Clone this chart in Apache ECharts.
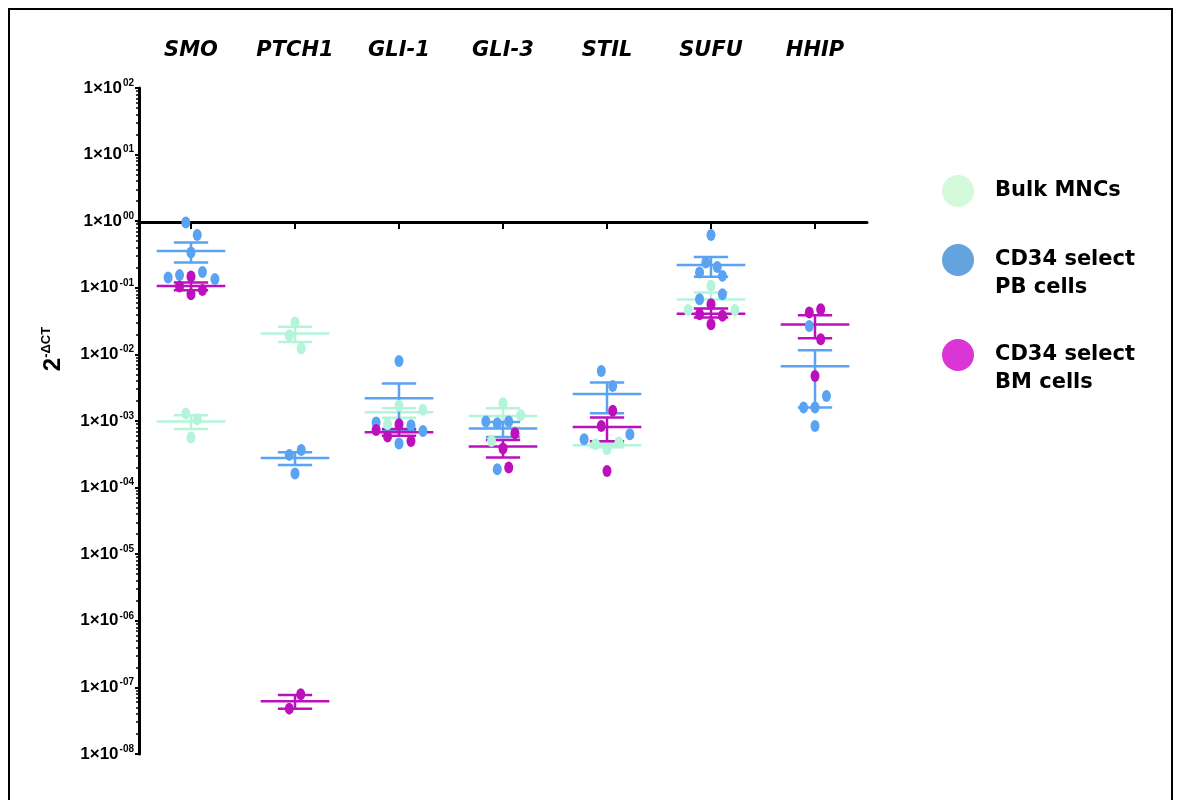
<!DOCTYPE html>
<html>
<head>
<meta charset="utf-8">
<script src="https://cdn.jsdelivr.net/npm/echarts@6/dist/echarts.min.js"></script>
<style>html,body{margin:0;padding:0;background:#fff;}#c{width:1181px;height:800px;}</style>
</head>
<body>
<div id="c"></div>
<script>
// ---------- DATA ----------
const genes = ['SMO', 'PTCH1', 'GLI-1', 'GLI-3', 'STIL', 'SUFU', 'HHIP'];
const groupNames = ['Bulk MNCs', 'CD34 select PB cells', 'CD34 select BM cells'];

// points: [gene index, jitter (category units), 2^-ΔCT]
const bulkPoints = [
  [0,-0.05,1.30e-3],[0,0.06,1.06e-3],[0,0,5.65e-4],
  [1,0,0.0301],[1,-0.055,0.0194],[1,0.06,0.0123],
  [2,0,1.69e-3],[2,0.23,1.47e-3],[2,-0.11,8.95e-4],
  [3,0,1.85e-3],[3,0.17,1.22e-3],[3,-0.11,5.02e-4],
  [4,-0.11,4.49e-4],[4,0,3.77e-4],[4,0.115,4.75e-4],
  [5,0,0.107],[5,-0.22,0.0466],[5,0.23,0.0466]
];
const pbPoints = [
  [0,-0.05,0.956],[0,0.06,0.623],[0,0,0.339],[0,-0.22,0.143],[0,-0.11,0.155],[0,0.11,0.173],[0,0.23,0.135],
  [1,-0.055,3.10e-4],[1,0.06,3.68e-4],[1,0,1.63e-4],
  [2,0,7.98e-3],[2,-0.22,9.5e-4],[2,0.115,8.65e-4],[2,0.23,7.1e-4],[2,0,4.59e-4],
  [3,-0.165,9.8e-4],[3,-0.055,9.27e-4],[3,0.055,9.8e-4],[3,-0.055,1.89e-4],
  [4,-0.055,5.65e-3],[4,0.055,3.36e-3],[4,-0.22,5.33e-4],[4,0.22,6.34e-4],
  [5,0,0.623],[5,-0.05,0.240],[5,0.06,0.206],[5,-0.11,0.170],[5,0.11,0.151],[5,-0.11,0.0675],[5,0.11,0.080],
  [6,-0.055,0.0268],[6,0.11,2.38e-3],[6,-0.11,1.60e-3],[6,0,1.60e-3],[6,0,8.44e-4]
];
const bmPoints = [
  [0,0,0.148],[0,-0.11,0.105],[0,0,0.080],[0,0.11,0.093],
  [1,0.055,7.9e-8],[1,-0.055,4.8e-8],
  [2,-0.22,7.35e-4],[2,-0.11,5.85e-4],[2,0,8.95e-4],[2,0.115,5.02e-4],
  [3,0.115,6.56e-4],[3,0,3.86e-4],[3,0.055,2.0e-4],
  [4,0.055,1.42e-3],[4,-0.055,8.44e-4],[4,0,1.78e-4],
  [5,-0.11,0.0402],[5,0.11,0.0379],[5,0,0.0284],[5,0,0.0567],
  [6,-0.055,0.0426],[6,0.055,0.0477],[6,0.055,0.0169],[6,0,0.00475]
];

// mean ± SEM: [gene index, mean, lower, upper]
const bulkStats = [
  [0,9.8e-4,7.6e-4,1.22e-3],[1,0.0206,0.0154,0.0259],[2,1.35e-3,1.12e-3,1.56e-3],
  [3,1.19e-3,8.0e-4,1.56e-3],[4,4.34e-4,4.05e-4,4.63e-4],[5,0.0667,0.0484,0.085]
];
const pbStats = [
  [0,0.358,0.240,0.479],[1,2.79e-4,2.19e-4,3.40e-4],[2,2.19e-3,7.2e-4,3.66e-3],
  [3,7.69e-4,5.77e-4,9.69e-4],[4,2.54e-3,1.31e-3,3.79e-3],[5,0.2196,0.146,0.291],
  [6,6.64e-3,1.6e-3,0.01156]
];
const bmStats = [
  [0,0.1065,0.092,0.120],[1,6.2e-8,4.8e-8,7.7e-8],[2,6.79e-4,6.0e-4,7.6e-4],
  [3,4.14e-4,2.83e-4,5.2e-4],[4,8.14e-4,4.98e-4,1.13e-3],[5,0.0408,0.0358,0.0489],
  [6,0.0280,0.0175,0.0388]
];

// ---------- STYLE ----------
const pointColors = ['#b3f4da', '#5aa3f2', '#bd10bd'];
const legendColors = ['#d5fadb', '#64a3de', '#da36d6'];

const chart = echarts.init(document.getElementById('c'), null, {renderer: 'canvas'});

function toScatter(pts) { return pts.map(p => [p[0] + p[1], p[2]]); }

function errRender(color) {
  return function (params, api) {
    const x = api.value(0), m = api.value(1), lo = api.value(2), hi = api.value(3);
    const pm = api.coord([x, m]), plo = api.coord([x, lo]), phi = api.coord([x, hi]);
    const band = api.coord([x + 1, m])[0] - pm[0];
    const w1 = band * 0.33, w2 = band * 0.165;
    const st = {stroke: color, lineWidth: 2.5};
    return {
      type: 'group',
      children: [
        {type: 'line', shape: {x1: pm[0], y1: plo[1], x2: pm[0], y2: phi[1]}, style: st},
        {type: 'line', shape: {x1: pm[0] - w1, y1: pm[1], x2: pm[0] + w1, y2: pm[1]}, style: st},
        {type: 'line', shape: {x1: pm[0] - w2, y1: phi[1], x2: pm[0] + w2, y2: phi[1]}, style: st},
        {type: 'line', shape: {x1: pm[0] - w2, y1: plo[1], x2: pm[0] + w2, y2: plo[1]}, style: st}
      ]
    };
  };
}

const pointSets = [bulkPoints, pbPoints, bmPoints];
const statSets = [bulkStats, pbStats, bmStats];
const series = [];
for (let g = 0; g < 3; g++) {
  series.push({
    name: groupNames[g], type: 'scatter', xAxisIndex: 0, yAxisIndex: 0,
    symbol: 'circle', symbolSize: [9, 12],
    itemStyle: {color: pointColors[g], opacity: 1},
    data: toScatter(pointSets[g]), z: 3
  });
  series.push({
    name: groupNames[g], type: 'custom', xAxisIndex: 0, yAxisIndex: 0,
    renderItem: errRender(pointColors[g]),
    encode: {x: 0, y: 1},
    data: statSets[g], z: 3
  });
}

function expLabel(v) {
  const e = Math.round(Math.log10(v));
  const s = (e < 0 ? '-' : '') + String(Math.abs(e)).padStart(2, '0');
  return '{a|1×10}{b|' + s + '}';
}

const option = {
  backgroundColor: '#fff',
  animation: false,
  grid: [
    {left: 139, right: 314, top: 88, bottom: 46},
    {left: 139, right: 314, top: 88, height: 134}
  ],
  xAxis: [
    {type: 'value', gridIndex: 0, min: -0.5, max: 6.5, show: false},
    {type: 'category', gridIndex: 0, position: 'top', data: genes,
     axisLine: {show: false}, axisTick: {show: false}, splitLine: {show: false},
     axisLabel: {margin: 27, color: '#000', fontSize: 21, fontWeight: 'bold', fontStyle: 'italic',
                 fontFamily: "'DejaVu Sans', 'Liberation Sans', Arial"}},
    {type: 'category', gridIndex: 1, position: 'bottom', data: genes,
     axisLine: {show: true, lineStyle: {color: '#000', width: 3}},
     axisTick: {show: true, alignWithLabel: true, length: 7, lineStyle: {color: '#000', width: 2}},
     axisLabel: {show: false}, splitLine: {show: false}}
  ],
  yAxis: [
    {type: 'log', gridIndex: 0, logBase: 10, min: 1e-8, max: 100, interval: 1,
     axisLine: {show: true, onZero: false, lineStyle: {color: '#000', width: 3}},
     axisTick: {show: true, length: 4, lineStyle: {color: '#000', width: 2}},
     minorTick: {show: true, splitNumber: 9, length: 3, lineStyle: {color: '#000', width: 1.5}},
     splitLine: {show: false},
     axisLabel: {margin: 5, formatter: expLabel,
       rich: {
         a: {fontSize: 17, fontWeight: 'bold', color: '#000', lineHeight: 20,
             fontFamily: "'Liberation Sans Narrow', 'Liberation Sans', Arial"},
         b: {fontSize: 10, fontWeight: 'bold', color: '#000', verticalAlign: 'top', lineHeight: 20,
             padding: [0, 0, 0, 1], fontFamily: "'Liberation Sans', Arial"}
       }}},
    {type: 'value', gridIndex: 1, show: false}
  ],
  legend: {
    orient: 'vertical', left: 937, top: 170, itemWidth: 32, itemHeight: 32, itemGap: 11,
    icon: 'circle',
    formatter: n => n.indexOf(' select ') >= 0 ? '\n' + n.replace(' select ', ' select\n') : n,
    textStyle: {fontSize: 21, fontWeight: 'bold', color: '#000', lineHeight: 28,
                fontFamily: "'DejaVu Sans', 'Liberation Sans', Arial", padding: [0, 0, 0, 16]},
    data: [
      {name: groupNames[0], icon: 'circle', itemStyle: {color: legendColors[0]}},
      {name: groupNames[1], icon: 'circle', itemStyle: {color: legendColors[1]}},
      {name: groupNames[2], icon: 'circle', itemStyle: {color: legendColors[2]}}
    ]
  },
  graphic: [
    {type: 'rect', shape: {x: 9, y: 9, width: 1163, height: 820},
     style: {fill: 'none', stroke: '#000', lineWidth: 2}, silent: true},
    {type: 'text', x: 53, y: 349, rotation: Math.PI / 2,
     style: {text: '{a|2}{b|-ΔCT}', align: 'center', verticalAlign: 'middle',
       rich: {
         a: {fontSize: 24, fontWeight: 'bold', fill: '#000', lineHeight: 26, fontFamily: "'Liberation Sans', Arial"},
         b: {fontSize: 13, fontWeight: 'bold', fill: '#000', verticalAlign: 'top', lineHeight: 26, fontFamily: "'Liberation Sans', Arial"}
       }}}
  ],
  series: series
};
chart.setOption(option);
</script>
</body>
</html>
